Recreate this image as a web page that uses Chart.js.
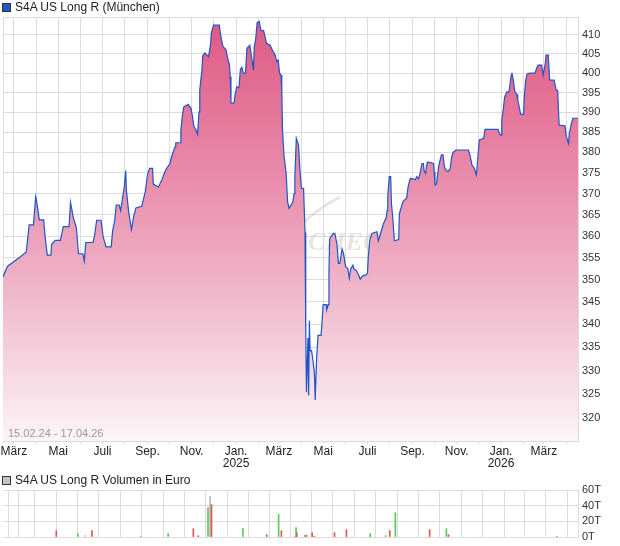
<!DOCTYPE html>
<html>
<head>
<meta charset="utf-8">
<script src="https://cdn.jsdelivr.net/npm/chart.js@4.4.1/dist/chart.umd.min.js"></script>
<style>
  body { margin: 0; width: 620px; height: 546px; background: #fff; position: relative; overflow: hidden;
         font-family: "Liberation Sans", Arial, sans-serif; }
  .head { position: absolute; left: 2px; font-size: 12px; color: #222; line-height: 14px; white-space: nowrap; }
  .head i { display: inline-block; width: 7px; height: 7px; border: 1px solid #333; margin-right: 4px; vertical-align: -1px; }
  #main { position: absolute; left: 0; top: 0; }
  #vol { position: absolute; left: 0; top: 470px; }
</style>
</head>
<body>
<canvas id="main" width="620" height="470"></canvas>
<canvas id="vol" width="620" height="76"></canvas>
<div class="head" style="top:0px"><i style="background:#2256c4"></i>S4A US Long R (München)</div>
<div class="head" style="top:473px"><i style="background:#c4c4c4"></i>S4A US Long R Volumen in Euro</div>
<script>
// Kursverlauf
const priceDates = [
  "2024-02-15","2024-02-21","2024-03-10","2024-03-18","2024-03-22","2024-03-28","2024-03-31","2024-04-01",
  "2024-04-05","2024-04-11","2024-04-13","2024-04-16","2024-04-21","2024-04-22","2024-04-27","2024-05-04",
  "2024-05-08","2024-05-16","2024-05-18","2024-05-22","2024-05-26","2024-05-29","2024-06-04","2024-06-06",
  "2024-06-08","2024-06-18","2024-06-20","2024-06-23","2024-06-29","2024-07-02","2024-07-06","2024-07-13",
  "2024-07-15","2024-07-18","2024-07-20","2024-07-24","2024-07-26","2024-07-31","2024-08-02","2024-08-03",
  "2024-08-06","2024-08-10","2024-08-13","2024-08-16","2024-08-24","2024-08-29","2024-09-01","2024-09-04",
  "2024-09-08","2024-09-09","2024-09-16","2024-09-21","2024-09-25","2024-09-27","2024-10-02","2024-10-04",
  "2024-10-09","2024-10-10","2024-10-16","2024-10-17","2024-10-19","2024-10-21","2024-10-27","2024-10-31",
  "2024-11-02","2024-11-04","2024-11-07","2024-11-09","2024-11-11","2024-11-12","2024-11-15","2024-11-16",
  "2024-11-19","2024-11-24","2024-11-25","2024-11-27","2024-11-28","2024-12-01","2024-12-09","2024-12-10",
  "2024-12-12","2024-12-14","2024-12-18","2024-12-20","2024-12-23","2024-12-24","2024-12-25","2024-12-29",
  "2024-12-31","2025-01-02","2025-01-05","2025-01-07","2025-01-09","2025-01-11","2025-01-14","2025-01-16",
  "2025-01-20","2025-01-25","2025-01-26","2025-01-28","2025-01-30","2025-02-02","2025-02-04","2025-02-08",
  "2025-02-10","2025-02-12","2025-02-17","2025-02-20","2025-02-24","2025-02-26","2025-02-28","2025-03-02",
  "2025-03-04","2025-03-05","2025-03-06","2025-03-08","2025-03-11","2025-03-13","2025-03-15","2025-03-20",
  "2025-03-22","2025-03-23","2025-03-25","2025-03-28","2025-03-30","2025-04-01","2025-04-04","2025-04-06",
  "2025-04-07","2025-04-08","2025-04-10","2025-04-11","2025-04-12","2025-04-13","2025-04-15","2025-04-17",
  "2025-04-19","2025-04-20","2025-04-22","2025-04-24","2025-04-28","2025-04-29","2025-05-01","2025-05-05",
  "2025-05-06","2025-05-08","2025-05-09","2025-05-10","2025-05-15","2025-05-17","2025-05-20","2025-05-22",
  "2025-05-24","2025-05-27","2025-05-29","2025-06-01","2025-06-04","2025-06-06","2025-06-08","2025-06-11",
  "2025-06-12","2025-06-16","2025-06-19","2025-06-21","2025-06-24","2025-06-28","2025-07-01","2025-07-02",
  "2025-07-04","2025-07-07","2025-07-14","2025-07-16","2025-07-18","2025-07-21","2025-07-23","2025-07-27",
  "2025-07-28","2025-07-29","2025-07-31","2025-08-02","2025-08-03","2025-08-05","2025-08-07","2025-08-13",
  "2025-08-14","2025-08-19","2025-08-24","2025-08-26","2025-08-29","2025-09-05","2025-09-07","2025-09-09",
  "2025-09-11","2025-09-14","2025-09-16","2025-09-17","2025-09-19","2025-09-21","2025-09-22","2025-09-30",
  "2025-10-01","2025-10-02","2025-10-04","2025-10-07","2025-10-09","2025-10-11","2025-10-13","2025-10-15",
  "2025-10-17","2025-10-20","2025-10-23","2025-10-25","2025-10-27","2025-10-31","2025-11-17","2025-11-19",
  "2025-11-22","2025-11-25","2025-11-28","2025-11-29","2025-12-02","2025-12-08","2025-12-10","2025-12-28",
  "2025-12-30","2026-01-01","2026-01-02","2026-01-04","2026-01-06","2026-01-09","2026-01-12","2026-01-15",
  "2026-01-16","2026-01-18","2026-01-20","2026-01-23","2026-01-24","2026-01-26","2026-01-28","2026-02-01",
  "2026-02-02","2026-02-04","2026-02-06","2026-02-10","2026-02-17","2026-02-19","2026-02-21","2026-02-26",
  "2026-02-28","2026-03-03","2026-03-04","2026-03-07","2026-03-09","2026-03-15","2026-03-18","2026-03-20",
  "2026-03-22","2026-03-30","2026-04-01","2026-04-04","2026-04-05","2026-04-08","2026-04-10","2026-04-17"
];
const priceValues = [
  350.6, 353.0, 355.2, 356.3, 362.6, 362.6, 369.3, 368.5,
  363.8, 363.8, 359.9, 355.6, 355.6, 358.1, 359.0, 359.0,
  362.2, 362.2, 367.9, 364.2, 362.0, 355.9, 355.9, 354.2,
  358.5, 358.5, 360.0, 363.7, 363.7, 359.8, 357.5, 357.5,
  361.2, 363.8, 367.3, 367.3, 366.0, 371.5, 375.6, 370.8,
  365.8, 361.5, 364.6, 366.6, 367.0, 370.5, 374.6, 376.1,
  376.1, 372.3, 371.6, 373.4, 375.3, 376.0, 377.3, 378.9,
  381.4, 382.4, 382.4, 385.5, 389.1, 391.4, 392.0, 391.0,
  388.9, 386.4, 385.5, 384.5, 390.1, 395.7, 400.8, 404.5,
  405.3, 404.3, 405.3, 407.8, 410.6, 412.6, 412.6, 410.9,
  408.7, 406.9, 406.2, 404.3, 402.1, 399.1, 392.3, 392.3,
  394.8, 396.5, 396.3, 401.0, 401.5, 400.0, 400.0, 406.5,
  407.3, 400.8, 406.9, 408.8, 413.3, 413.6, 411.3, 411.1,
  409.5, 407.8, 407.3, 406.0, 404.7, 403.0, 403.4, 400.0,
  399.5, 395.7, 385.5, 379.4, 374.9, 368.1, 366.5, 367.9,
  370.0, 374.1, 383.5, 381.9, 375.7, 371.3, 371.3, 360.8,
  338.8, 325.4, 337.0, 324.7, 340.8, 334.3, 334.3, 332.1,
  329.4, 323.8, 332.8, 337.6, 337.6, 339.5, 344.4, 344.4,
  343.3, 344.4, 352.2, 359.4, 360.6, 360.6, 358.2, 353.7,
  353.7, 357.0, 356.0, 352.9, 352.5, 350.3, 352.5, 353.3,
  352.5, 352.0, 351.0, 350.1, 350.8, 351.0, 351.4, 354.8,
  358.9, 360.6, 361.0, 358.9, 360.0, 361.7, 362.9, 364.4,
  366.0, 369.3, 374.1, 374.1, 367.7, 364.0, 358.9, 359.2,
  365.3, 368.1, 369.0, 371.7, 373.7, 373.4, 374.1, 373.6,
  374.5, 377.3, 377.3, 375.5, 374.9, 377.3, 377.7, 377.3,
  375.2, 372.1, 372.3, 376.5, 378.1, 379.4, 379.4, 376.5,
  375.7, 375.3, 376.1, 378.9, 380.0, 380.6, 380.6, 379.5,
  376.9, 376.2, 374.5, 376.5, 383.1, 383.5, 385.7, 385.7,
  384.6, 384.3, 388.0, 390.6, 393.9, 395.2, 395.2, 399.5,
  400.1, 398.0, 395.2, 394.5, 393.1, 391.4, 389.5, 389.5,
  393.9, 398.2, 399.8, 400.0, 400.0, 401.3, 402.1, 402.1,
  399.5, 402.6, 404.7, 404.7, 398.2, 398.2, 395.7, 395.5,
  386.8, 386.6, 383.9, 382.2, 384.8, 387.2, 388.5, 388.5
];

// Volumen in Tausend Euro, Richtung des Kurses am Handelstag
const volDates = [
  "2024-04-16","2024-05-17","2024-05-27","2024-06-06","2024-08-15","2024-09-23","2024-10-29","2024-11-05",
  "2024-11-19","2024-11-22","2024-11-24","2025-01-08","2025-02-11","2025-02-28","2025-03-04","2025-03-24",
  "2025-03-25","2025-03-26","2025-04-07","2025-04-09","2025-04-17","2025-04-20","2025-05-19","2025-06-05",
  "2025-07-09","2025-07-31","2025-08-06","2025-08-14","2025-10-02","2025-10-26","2025-10-29","2026-04-02"
];
const volValues = [
  8.1, 4.3, 1.7, 8.1, 0.4, 4.3, 10.6, 1.7,
  37.4, 51.5, 41.3, 10.6, 3.0, 28.9, 8.1, 1.3,
  11.9, 5.5, 2.2, 2.5, 5.5, 0.4, 5.5, 9.4,
  4.3, 1.7, 8.1, 31.0, 9.4, 10.6, 3.0, 0.4
];
const volKinds = [
  "down","up","flat","down","up","up","down","down",
  "up","flat","down","up","down","up","down","up",
  "up","down","down","up","down","down","down","down",
  "up","up","down","up","down","up","down","down"
];

const priceTicks = [320, 325, 330, 335, 340, 345, 350, 355, 360, 365, 370, 375, 380, 385, 390, 395, 400, 405, 410];
const priceMin = 315.3, priceMax = 414.8;
const volTicks = [0, 20, 40, 60];
const monthNames = ["Jan.", "Feb.", "März", "Apr.", "Mai", "Juni", "Juli", "Aug.", "Sep.", "Okt.", "Nov.", "Dez."];
const rangeText = "15.02.24 - 17.04.26";

// Tage seit Beginn als x-Wert
const DAY = 86400000;
const parse = s => { const [y, m, d] = s.split("-").map(Number); return Date.UTC(y, m - 1, d); };
const t0 = parse(priceDates[0]);
const toDay = s => Math.round((parse(s) - t0) / DAY);
const lastDay = toDay(priceDates[priceDates.length - 1]);

// Monatsanfänge als Gitter, jeder zweite beschriftet
const monthTicks = [];
const monthLabels = {};
{
  const start = new Date(t0);
  let y = start.getUTCFullYear(), m = start.getUTCMonth() + 1;
  while (true) {
    const d = Math.round((Date.UTC(y, m, 1) - t0) / DAY);
    if (d > lastDay) break;
    monthTicks.push(d);
    if (m % 2 === 0) monthLabels[d] = m === 0 ? [monthNames[m], String(y)] : monthNames[m];
    m++;
    if (m > 11) { m = 0; y++; }
  }
}

const GRID = "#dcdcdc";
const kindColor = { up: "#55cc55", down: "#e05555", flat: "#b8b8b8" };

const extras = {
  id: "extras",
  beforeDatasetsDraw(chart) {
    const { ctx } = chart;
    ctx.save();
    ctx.fillStyle = "rgba(205,198,188,0.45)";
    ctx.font = "italic bold 26px 'Liberation Serif', serif";
    ctx.textBaseline = "alphabetic";
    ctx.fillText("CHECK", 308, 250);
    ctx.strokeStyle = "rgba(205,198,188,0.45)";
    ctx.lineWidth = 3;
    ctx.beginPath();
    ctx.moveTo(304, 222);
    ctx.quadraticCurveTo(322, 206, 340, 197);
    ctx.stroke();
    ctx.restore();
  },
  afterDatasetsDraw(chart) {
    const { ctx, chartArea } = chart;
    ctx.save();
    ctx.font = "11px 'Liberation Sans', Arial, sans-serif";
    ctx.fillStyle = "#999";
    ctx.textBaseline = "middle";
    ctx.fillText(rangeText, chartArea.left + 5, chartArea.bottom - 7);
    ctx.restore();
  }
};

function fillGradient(context) {
  const { ctx, chartArea } = context.chart;
  if (!chartArea) return "rgba(230,120,160,0.6)";
  const g = ctx.createLinearGradient(0, chartArea.top, 0, chartArea.bottom);
  g.addColorStop(0, "rgb(222,88,132)");
  g.addColorStop(0.35, "rgb(232,135,167)");
  g.addColorStop(0.6, "rgb(238,175,196)");
  g.addColorStop(0.85, "rgb(246,218,228)");
  g.addColorStop(1, "rgb(253,245,248)");
  return g;
}

const xMonthAxis = (showLabels) => ({
  type: "linear",
  min: 0,
  max: lastDay,
  afterBuildTicks: scale => { scale.ticks = [0, ...monthTicks].map(v => ({ value: v })); },
  afterFit: scale => { scale.paddingLeft = 0; scale.paddingRight = 0; scale.height = showLabels ? 29 : 0; },
  grid: { color: GRID, lineWidth: 1, drawTicks: showLabels, tickLength: 3 },
  border: { color: GRID },
  ticks: {
    display: showLabels,
    autoSkip: false,
    maxRotation: 0,
    padding: 1,
    color: "#222",
    font: { family: "'Liberation Sans Narrow', 'Liberation Sans', Arial", size: 12, lineHeight: 1.05 },
    callback: v => monthLabels[v] || ""
  }
});

// rechte Achse mit fester Breite, ohne Zusatzabstand oben/unten
const rightAxisFit = scale => { scale.width = 42; scale.paddingTop = 0; scale.paddingBottom = 0; };

new Chart(document.getElementById("main"), {
  type: "line",
  data: {
    datasets: [{
      data: priceDates.map((d, i) => ({ x: toDay(d), y: priceValues[i] })),
      borderColor: "#1f55c6",
      borderWidth: 1.2,
      backgroundColor: fillGradient,
      fill: "start",
      pointRadius: 0,
      tension: 0
    }]
  },
  options: {
    responsive: false,
    animation: false,
    layout: { padding: { left: 3, top: 17, right: 0, bottom: 0 } },
    plugins: { legend: { display: false }, tooltip: { enabled: false } },
    scales: {
      x: xMonthAxis(true),
      y: {
        type: "logarithmic",
        position: "right",
        min: priceMin,
        max: priceMax,
        afterBuildTicks: scale => { scale.ticks = [priceMin, ...priceTicks, priceMax].map(v => ({ value: v })); },
        afterFit: rightAxisFit,
        grid: { color: GRID, drawTicks: false },
        border: { color: GRID },
        ticks: {
          autoSkip: false,
          padding: 4,
          color: "#333",
          font: { family: "'Liberation Sans', Arial", size: 11 },
          callback: v => priceTicks.includes(v) ? String(v) : ""
        }
      }
    }
  },
  plugins: [extras]
});

new Chart(document.getElementById("vol"), {
  type: "bar",
  data: {
    datasets: [{
      data: volDates.map((d, i) => ({ x: toDay(d), y: volValues[i] })),
      backgroundColor: volKinds.map(k => kindColor[k]),
      barThickness: 1
    }]
  },
  options: {
    responsive: false,
    animation: false,
    layout: { padding: { left: 3, top: 20, right: 0, bottom: 9 } },
    plugins: { legend: { display: false }, tooltip: { enabled: false } },
    scales: {
      x: xMonthAxis(false),
      y: {
        position: "right",
        min: 0,
        max: 60,
        afterBuildTicks: scale => { scale.ticks = volTicks.map(v => ({ value: v })); },
        afterFit: rightAxisFit,
        grid: { color: GRID, drawTicks: false },
        border: { color: GRID },
        ticks: {
          autoSkip: false,
          padding: 4,
          color: "#333",
          font: { family: "'Liberation Sans', Arial", size: 11 },
          callback: v => v + "T"
        }
      }
    }
  }
});
</script>
</body>
</html>
